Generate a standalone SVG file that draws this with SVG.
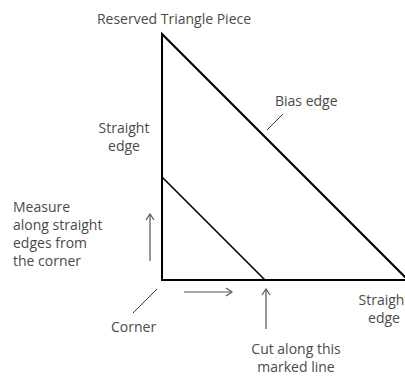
<svg xmlns="http://www.w3.org/2000/svg" width="405" height="376" viewBox="0 0 405 376">
<style>
text{font-family:"Open Sans","Noto Sans",sans-serif;font-size:14px;fill:#4a4a4a}
.shape{stroke:#000;stroke-width:2;fill:none}
.cut{stroke:#000;stroke-width:1.6;fill:none}
.lead{stroke:#333;stroke-width:1;fill:none}
.arr{stroke:#555;stroke-width:1.2;fill:none;marker-end:url(#ah)}
</style>
<defs>
<marker id="ah" viewBox="0 0 10 10" refX="9" refY="5" markerWidth="10" markerHeight="10" markerUnits="userSpaceOnUse" orient="auto">
<path d="M3,1 L9,5 L3,9" fill="none" stroke="#555" stroke-width="1.2"/>
</marker>
</defs>
<rect width="405" height="376" fill="#fff"/>
<g id="triangle">
<path class="shape" d="M162,280 L162,34 L409,281 M161,280 L405,280"/>
</g>
<g id="cutline">
<path class="cut" d="M162,177 L265,280"/>
</g>
<g id="connectors">
<line class="lead" x1="283" y1="114" x2="267" y2="130"/>
<line class="lead" x1="157" y1="289" x2="133" y2="313"/>
<line class="arr" x1="150" y1="261" x2="150" y2="214"/>
<line class="arr" x1="184" y1="292" x2="232" y2="292"/>
<line class="arr" x1="266" y1="329" x2="266" y2="289"/>
</g>
<g id="label-reserved"><text x="174" y="24" text-anchor="middle">Reserved Triangle Piece</text></g>
<g id="label-bias"><text x="275" y="106">Bias edge</text></g>
<g id="label-straight-left"><text x="124" y="133" text-anchor="middle">Straight</text><text x="124" y="151" text-anchor="middle">edge</text></g>
<g id="label-measure"><text x="13" y="212">Measure</text><text x="13" y="230">along straight</text><text x="13" y="248">edges from</text><text x="13" y="266">the corner</text></g>
<g id="label-corner"><text x="111" y="332">Corner</text></g>
<g id="label-cut"><text x="296" y="354" text-anchor="middle">Cut along this</text><text x="296" y="372" text-anchor="middle">marked line</text></g>
<g id="label-straight-right"><text x="384" y="305" text-anchor="middle">Straight</text><text x="384" y="323" text-anchor="middle">edge</text></g>
</svg>
